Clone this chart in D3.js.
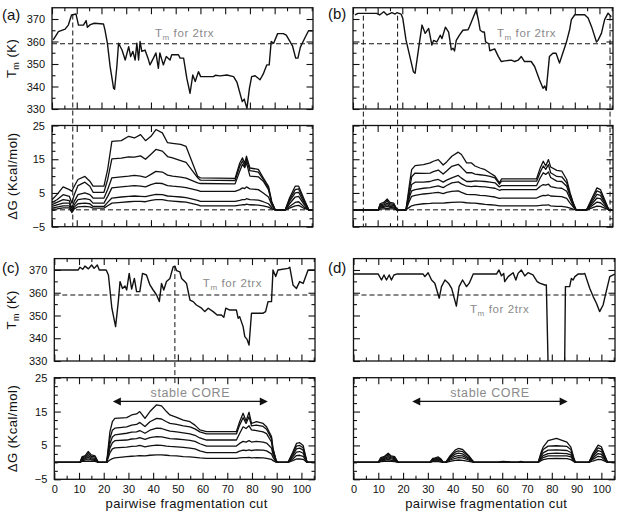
<!DOCTYPE html>
<html>
<head>
<meta charset="utf-8">
<script src="https://cdn.jsdelivr.net/npm/d3@7"></script>
<style>
  body { margin: 0; background: #fff; }
  svg text { font-family: "Liberation Sans", Arial, sans-serif; }
</style>
</head>
<body>
<svg width="621" height="520"></svg>
<script>
// tick values
let cutTicks = d3.range(0, 101, 10);
let cutMinor = d3.range(5, 106, 10);
let tmTicks = [330, 340, 350, 360, 370];
let tmMinor = [335, 345, 355, 365];
let dgTicks = [-5, 5, 15, 25];
let dgMinor = [-2.5, 0, 2.5, 7.5, 10, 12.5, 17.5, 20, 22.5];
let tm2trx = 359;

// melting temperature along the cut, [cut, Tm]
let tmA = [[0.5, 360.7], [2.6, 364.4], [5.3, 365.5], [6.6, 367.3], [7.9, 371.8], [9.7, 372.2], [10.7, 367.3], [12.7, 367.3], [13.8, 369.3], [14.3, 366.3], [15.5, 367.5], [17.1, 368.1], [20.8, 367.8], [21.4, 365.2], [22.4, 359.2], [23.5, 348.8], [24.9, 339.2], [25.3, 338.8], [26.2, 348.8], [26.9, 359.2], [28.3, 356.2], [29.6, 351.8], [31, 357.7], [31.8, 353.3], [32.7, 355.6], [33.6, 351.8], [34.3, 359.2], [35, 351.8], [35.6, 360], [36.3, 355.6], [37.6, 356.2], [38.8, 352.6], [39.6, 349.6], [41, 352.6], [42, 354.9], [43, 348.1], [43.6, 354.9], [45, 349.6], [46.2, 353.3], [47.7, 351.8], [48.4, 354.1], [51.1, 354.1], [51.8, 352.6], [53.2, 352.6], [54.5, 343.6], [55.8, 337], [56.9, 345.1], [57.9, 342.2], [59.2, 346.6], [60.1, 344.4], [61.2, 344.4], [65.3, 344.4], [66, 345], [68, 344.7], [70.7, 345.1], [73.4, 344.4], [74.8, 341.8], [76.9, 333.3], [77.7, 334.4], [78.8, 330.3], [79.8, 339.2], [80.7, 344.4], [82.1, 344.8], [84.1, 343], [85.4, 345.6], [86.8, 349.6], [87.8, 349.6], [88.6, 360], [89.6, 359.2], [91.2, 363.5], [93.5, 363.5], [94.7, 362.8], [97.2, 358.1], [98.5, 352.6], [99.4, 352.6], [100.4, 357.5], [102.4, 362], [103.7, 364.8], [105.3, 364.8]];

let tmB = [[0.8, 371.8], [2, 372.5], [3.5, 372.5], [9.6, 372.5], [10.8, 371.8], [12.5, 373.2], [13.8, 371.8], [15.8, 372.8], [17.1, 372.2], [17.8, 372.8], [19.5, 372.2], [20.2, 370.3], [21.5, 360.7], [24.5, 346.6], [25.2, 345.9], [26.6, 356.7], [28, 367.3], [29.3, 363.6], [30.7, 365.8], [32, 358.4], [32.7, 360.5], [34, 359.8], [35.4, 362.8], [36.1, 361.3], [37.5, 366.4], [38.8, 364.2], [39.9, 356.3], [40.6, 357], [41.2, 355.8], [41.9, 360.5], [43.2, 362.8], [44.6, 365], [46.6, 365.2], [47.2, 366.4], [50, 374], [50.9, 369.5], [51.6, 365], [52.6, 364.2], [53.3, 364.2], [53.8, 359.8], [55.1, 359], [55.5, 355.9], [57.5, 356.7], [59, 353.3], [60.2, 351.1], [61.6, 351.4], [64.3, 351.7], [65.6, 351.1], [67, 351.7], [68.3, 353.3], [69.6, 351.1], [72.3, 351.1], [73.7, 348.9], [75.7, 342.9], [77.1, 339.2], [77.8, 340.2], [78.4, 338.3], [79.7, 353.3], [81.1, 354.8], [82.4, 354.8], [83.8, 350.4], [85.1, 354.8], [86.5, 359.3], [87.9, 365.2], [88.6, 369.7], [90, 371.9], [94, 371.9], [95.4, 370.4], [96.8, 366.6], [98.8, 359.8], [99.4, 360.5], [100.8, 363.6], [102.1, 369.7], [103.5, 372.6], [104.8, 371]];

let tmC = [[0, 370], [9.7, 370], [10.4, 371.2], [11.5, 370.3], [12.4, 371.7], [13.8, 370.5], [15.1, 372.2], [16.1, 370.7], [17.4, 372.2], [18.2, 370], [21, 370], [21.9, 367.8], [23.3, 353.2], [24.8, 345.1], [25.9, 356.1], [26.6, 364.9], [27.6, 361.9], [28.6, 363], [29.3, 361.2], [30.3, 368.5], [31.3, 361.6], [32.4, 366.3], [33.3, 360.5], [34.6, 360.5], [35.7, 368.5], [37.3, 367.8], [38.7, 363.4], [40, 361.2], [41.4, 359], [42.5, 356.1], [43.4, 364.1], [44.3, 361.2], [45.4, 364.9], [46.8, 366.3], [48.1, 371.4], [48.8, 371.7], [49.5, 369.7], [50.8, 369.2], [51.5, 366.3], [52.8, 364.9], [53.5, 364.1], [54.9, 356.8], [56.2, 356.1], [57.5, 354.6], [59.6, 353.2], [60.9, 351.7], [62.3, 353.2], [64.3, 351.7], [65.9, 350.2], [67.6, 350.2], [68.6, 349.2], [69.4, 353.2], [71, 352.4], [73.7, 352.4], [74.4, 348.8], [75, 349.5], [76.4, 345.1], [77.1, 340.7], [78, 339.5], [78.8, 337], [79.8, 351], [84.5, 351], [85.5, 351.7], [86.5, 356.1], [87.9, 356.1], [88.5, 370], [89.6, 367.1], [90.5, 370], [94.6, 370.7], [95.3, 371.2], [96.6, 363.4], [98, 361.9], [99.3, 364.9], [100.7, 364.1], [102.7, 370], [105.5, 370]];

let tmD = [[0, 368.2], [10, 368.2], [11.3, 365.6], [12.3, 367.8], [13.3, 365.6], [14.4, 367.8], [15.3, 365.6], [16.3, 367.8], [17.4, 368.2], [28.1, 368.2], [28.8, 367.1], [30.1, 368.8], [31.5, 365.6], [32.8, 364.2], [34.6, 357.6], [35.5, 362.7], [36.9, 365.6], [38.3, 364.2], [39.6, 361.9], [41.5, 354.1], [42.6, 362.7], [44, 365.6], [45.6, 362.7], [46.7, 364.2], [48.3, 368.2], [57.7, 368.2], [58.7, 370], [59.7, 367.4], [60.6, 368.5], [61, 364.9], [62.4, 367.1], [64.4, 368.8], [65.5, 365.6], [66.4, 368.5], [67.7, 370], [69.1, 367.4], [70.4, 368.8], [72.4, 367.8], [74.1, 364.9], [75.1, 364.2], [77.2, 363.4], [77.8, 363.4], [78.5, 329], [85.2, 329], [85.5, 362.7], [87.2, 362.7], [87.9, 366.3], [88.6, 365.6], [89.3, 367.1], [90.6, 368.2], [92.6, 368.2], [93.3, 368.5], [95.3, 362], [96.7, 358.3], [98, 355.4], [99.3, 351.7], [100.7, 354.6], [102, 360.7], [103.4, 367.1], [105.4, 368.2]];

// free energy curves: [cut, dG1 .. dG6]
let dgA = [
  [0, 3.0, 2.2, 1.5, 1.0, 0.5, 0.2], [2, 4.5, 3.0, 2.2, 1.5, 0.8, 0.3], [4.5, 6.8, 4.5, 3.0, 2.0, 1.2, 0.6],
  [7, 6.0, 4.0, 2.7, 2.0, 1.2, 0.6], [8, 5.5, 2.0, 0.5, -0.3, -0.6, -0.8], [9, 7.0, 4.5, 2.5, 1.5, 0.8, 0.3],
  [10.5, 9.0, 7.2, 4.5, 3.0, 1.8, 0.9], [13.3, 9.9, 8.2, 5.0, 3.3, 2.0, 1.0], [15.3, 8.5, 7.0, 4.5, 3.0, 1.8, 0.9],
  [16.6, 7.0, 5.2, 3.5, 2.0, 1.0, 0.5], [21, 7.0, 5.2, 3.5, 2.0, 1.0, 0.5], [22.5, 12.0, 9.0, 6.0, 4.0, 2.2, 1.2],
  [24.2, 20.3, 15.1, 9.5, 6.5, 3.5, 2.0], [28, 20.5, 15.3, 9.8, 6.8, 3.8, 2.2], [31, 21.8, 15.7, 10.0, 7.0, 4.0, 2.4],
  [33.3, 21.3, 15.6, 10.2, 7.2, 4.1, 2.5], [35.8, 22.3, 16.0, 10.0, 7.0, 4.0, 2.5], [37.8, 20.5, 15.0, 9.6, 6.8, 3.9, 2.4],
  [40, 21.8, 16.5, 10.5, 7.5, 4.3, 2.8], [42, 23.8, 17.9, 11.4, 7.9, 4.6, 3.0], [44.6, 22.8, 17.4, 11.2, 7.8, 4.5, 3.0],
  [46.7, 19.9, 15.8, 10.3, 7.2, 4.1, 2.7], [48.7, 19.7, 15.4, 10.0, 7.0, 4.0, 2.6], [52, 19.4, 14.6, 9.7, 6.8, 3.8, 2.4],
  [54.2, 18.8, 14.1, 9.4, 6.6, 3.6, 2.3], [58.9, 9.9, 9.5, 8.0, 5.8, 2.8, 1.5], [60, 9.5, 8.8, 7.8, 5.5, 2.5, 1.2],
  [74, 9.3, 8.7, 7.7, 5.5, 2.5, 1.2], [75.9, 13.9, 12.9, 11.5, 6.0, 2.8, 1.4], [77, 15.4, 14.5, 13.5, 6.5, 3.0, 1.5],
  [77.9, 13.8, 13.0, 12.5, 6.3, 3.0, 1.5], [78.6, 15.9, 15.0, 14.0, 6.8, 3.3, 1.7], [80, 12.4, 11.6, 10.0, 6.2, 3.0, 1.5],
  [83.4, 12.0, 11.2, 9.8, 6.0, 2.9, 1.4], [85.4, 9.5, 9.0, 8.5, 5.0, 2.4, 1.2], [87.5, 7.0, 6.5, 6.0, 3.8, 1.8, 0.8],
  [88.8, 2.5, 2.2, 2.0, 1.5, 0.7, 0.3], [90.2, 0, 0, 0, 0, 0, 0], [94.3, 0, 0, 0, 0, 0, 0],
  [96, 3.5, 3.0, 2.5, 1.8, 1.0, 0.5], [98.3, 7.0, 6.0, 5.0, 3.8, 2.2, 1.2], [99.7, 7.0, 6.2, 5.2, 4.0, 2.4, 1.3],
  [102, 3.0, 2.5, 2.0, 1.5, 0.8, 0.4], [103.8, 0, 0, 0, 0, 0, 0], [105.5, 0, 0, 0, 0, 0, 0]
];

let dgB = [
  [0, 0, 0, 0, 0, 0, 0], [10.3, 0, 0, 0, 0, 0, 0], [11, 1.8, 1.5, 1.2, 0.9, 0.6, 0.3],
  [12.5, 2.2, 1.8, 1.4, 1.0, 0.7, 0.3], [13.9, 3.2, 2.6, 2.0, 1.5, 1.0, 0.4], [15, 2.2, 1.8, 1.4, 1.0, 0.7, 0.3],
  [16.5, 2.0, 1.6, 1.3, 0.9, 0.6, 0.3], [17.9, 0, 0, 0, 0, 0, 0], [21.5, 0, 0, 0, 0, 0, 0],
  [23, 8.0, 6.5, 5.0, 4.0, 2.8, 0.8], [23.8, 11.9, 9.8, 7.5, 5.6, 4.0, 1.2], [25.2, 13.1, 10.9, 8.2, 6.0, 4.3, 1.5],
  [28.6, 13.4, 10.8, 8.2, 6.4, 4.7, 1.8], [31.3, 13.9, 10.9, 8.4, 6.6, 4.9, 1.9], [32.6, 14.4, 11.3, 8.7, 6.8, 5.0, 2.0],
  [34.6, 14.9, 11.8, 9.0, 7.1, 5.2, 2.0], [36.6, 13.3, 10.6, 8.2, 6.6, 4.8, 2.0], [38, 14.2, 11.5, 8.8, 7.2, 5.2, 2.1],
  [40.1, 15.9, 12.9, 9.5, 8.0, 5.5, 2.2], [42.7, 17.1, 13.5, 10.2, 8.3, 5.6, 2.3], [44, 16.4, 12.6, 9.4, 7.7, 5.2, 2.3],
  [46.1, 13.9, 11.0, 8.4, 7.0, 4.6, 2.1], [48.1, 13.9, 11.0, 8.4, 6.9, 4.5, 2.0], [49.5, 13.0, 10.6, 8.6, 7.0, 4.5, 2.0],
  [51.5, 12.4, 10.4, 8.5, 6.9, 4.3, 1.8], [53.6, 11.9, 10.2, 8.4, 6.8, 4.2, 1.6], [55.6, 10.9, 9.9, 8.2, 6.6, 4.0, 1.5],
  [57.6, 10.0, 9.5, 8.0, 6.4, 3.8, 1.4], [59.4, 8.0, 7.6, 6.8, 5.8, 3.4, 1.2], [60.3, 9.2, 8.5, 7.2, 6.0, 3.5, 1.2],
  [74.5, 9.2, 8.5, 7.2, 6.0, 3.5, 1.2], [76, 12.5, 11.2, 9.5, 7.0, 4.0, 1.3], [77.2, 14.4, 13.0, 11.0, 7.5, 4.3, 1.4],
  [78.2, 13.0, 12.0, 10.5, 7.3, 4.2, 1.4], [79.3, 14.9, 13.4, 11.2, 7.6, 4.4, 1.5], [80.2, 12.7, 11.0, 9.6, 6.9, 4.1, 1.2],
  [82.7, 11.7, 9.9, 8.5, 6.5, 4.0, 1.0], [84.7, 11.5, 9.8, 8.4, 6.4, 3.9, 1.0], [86.7, 9.0, 8.0, 7.0, 5.5, 3.4, 0.8],
  [88.1, 5.0, 4.6, 4.0, 3.2, 2.0, 0.5], [89.4, 2.0, 1.8, 1.5, 1.2, 0.8, 0.2], [90.5, 0, 0, 0, 0, 0, 0],
  [94.8, 0, 0, 0, 0, 0, 0], [97, 3.5, 3.0, 2.4, 1.8, 1.2, 0.6], [99, 6.5, 5.6, 4.6, 3.5, 2.3, 1.1],
  [100.4, 6.0, 5.2, 4.3, 3.3, 2.1, 1.0], [103.8, 0, 0, 0, 0, 0, 0], [105.5, 0, 0, 0, 0, 0, 0]
];

let dgC = [
  [0, 0, 0, 0, 0, 0, 0], [10.4, 0, 0, 0, 0, 0, 0], [11.2, 1.6, 1.3, 1.0, 0.8, 0.5, 0.3],
  [12.5, 2.0, 1.7, 1.3, 1.0, 0.7, 0.3], [13.7, 3.2, 2.6, 2.0, 1.5, 1.0, 0.4], [15, 2.2, 1.8, 1.4, 1.0, 0.7, 0.3],
  [16.5, 1.9, 1.6, 1.2, 0.9, 0.6, 0.3], [17.8, 0, 0, 0, 0, 0, 0], [21.2, 0, 0, 0, 0, 0, 0],
  [22.5, 9.0, 7.0, 5.5, 4.2, 2.8, 0.7], [23.5, 12.0, 9.5, 7.5, 5.8, 4.0, 1.1], [24.5, 13.0, 10.1, 8.1, 6.4, 4.3, 1.3],
  [29.3, 13.2, 10.5, 8.6, 6.6, 4.5, 1.7], [31.3, 14.0, 11.0, 8.9, 6.9, 4.7, 1.8], [33.3, 14.3, 11.2, 9.0, 7.0, 4.8, 1.9],
  [34.6, 15.0, 11.8, 9.4, 7.3, 5.0, 2.0], [36.7, 13.0, 10.6, 8.6, 6.8, 4.6, 1.9], [38.7, 15.0, 12.0, 9.5, 7.3, 4.9, 2.1],
  [41.4, 17.0, 13.0, 10.1, 7.6, 5.1, 2.2], [43.4, 16.7, 12.8, 10.0, 7.5, 5.0, 2.2], [45.4, 15.0, 12.0, 9.5, 7.2, 4.8, 2.1],
  [46.8, 14.0, 11.5, 9.2, 7.0, 4.7, 2.0], [49.5, 13.3, 11.2, 9.0, 6.9, 4.6, 1.9], [52.2, 12.5, 10.8, 8.7, 6.7, 4.4, 1.7],
  [54.9, 12.0, 10.5, 8.4, 6.5, 4.2, 1.6], [56.9, 11.0, 9.9, 8.0, 6.2, 4.0, 1.5], [58.9, 9.6, 9.0, 7.2, 5.5, 3.4, 1.3],
  [61.6, 9.1, 8.4, 6.6, 4.8, 2.9, 1.2], [73.7, 9.1, 8.4, 6.6, 4.8, 2.9, 1.2], [75, 12.0, 11.0, 8.5, 5.6, 3.3, 1.3],
  [76.4, 14.5, 13.2, 10.5, 6.2, 3.6, 1.4], [77.6, 12.2, 11.5, 10.0, 6.0, 3.5, 1.4], [78.8, 14.8, 13.5, 10.8, 6.4, 3.7, 1.5],
  [79.8, 11.5, 10.8, 9.6, 6.0, 3.5, 1.3], [81.8, 12.0, 11.0, 9.4, 6.2, 3.7, 1.4], [84.5, 11.5, 10.6, 9.0, 6.0, 3.6, 1.3],
  [85.9, 10.5, 9.8, 8.5, 5.7, 3.4, 1.2], [87.9, 7.6, 7.0, 6.0, 4.2, 2.5, 0.9], [88.5, 4.2, 3.8, 3.2, 2.4, 1.5, 0.5],
  [89.8, 0.5, 0.4, 0.3, 0.2, 0.1, 0.1], [90.5, 0, 0, 0, 0, 0, 0], [94.6, 0, 0, 0, 0, 0, 0],
  [96.5, 3.0, 2.6, 2.1, 1.6, 1.0, 0.5], [98, 5.6, 4.8, 4.0, 3.0, 2.0, 1.0], [99.3, 5.8, 5.0, 4.2, 3.2, 2.1, 1.0],
  [100.7, 5.0, 4.3, 3.6, 2.7, 1.8, 0.9], [102.3, 0, 0, 0, 0, 0, 0], [105.5, 0, 0, 0, 0, 0, 0]
];

let dgD = [
  [0, 0, 0, 0, 0, 0, 0], [10, 0, 0, 0, 0, 0, 0], [11, 1.4, 1.1, 0.9, 0.7, 0.4, 0.2],
  [12.5, 1.8, 1.5, 1.2, 0.9, 0.6, 0.3], [14, 2.7, 2.2, 1.7, 1.3, 0.9, 0.4], [15.2, 1.9, 1.6, 1.3, 1.0, 0.6, 0.3],
  [16.6, 1.7, 1.4, 1.1, 0.8, 0.5, 0.2], [18, 0, 0, 0, 0, 0, 0], [30.8, 0, 0, 0, 0, 0, 0],
  [32, 1.2, 1.0, 0.8, 0.6, 0.4, 0.2], [33, 1.3, 1.1, 0.9, 0.7, 0.4, 0.2], [34.2, 1.6, 1.3, 1.0, 0.8, 0.5, 0.2],
  [35.3, 1.0, 0.8, 0.6, 0.5, 0.3, 0.1], [36.2, 0, 0, 0, 0, 0, 0], [37.2, 0, 0, 0, 0, 0, 0],
  [39, 2.0, 1.7, 1.4, 1.0, 0.7, 0.3], [41, 3.6, 3.0, 2.4, 1.8, 1.2, 0.6], [42.3, 4.1, 3.4, 2.7, 2.0, 1.4, 0.7],
  [44, 3.8, 3.2, 2.5, 1.9, 1.3, 0.6], [46.5, 2.0, 1.7, 1.3, 1.0, 0.7, 0.3], [48.6, 0, 0, 0, 0, 0, 0],
  [58.5, 0, 0, 0, 0, 0, 0], [60, 0.3, 0.2, 0.2, 0.1, 0.1, 0], [62, 0.2, 0.2, 0.1, 0.1, 0, 0],
  [63.5, 0, 0, 0, 0, 0, 0], [66.5, 0, 0, 0, 0, 0, 0], [67.5, 0.3, 0.2, 0.1, 0.1, 0, 0],
  [68.8, 0, 0, 0, 0, 0, 0], [74.5, 0, 0, 0, 0, 0, 0], [75.7, 3.0, 2.4, 1.8, 1.3, 0.9, 0.5],
  [76.5, 4.5, 3.8, 2.8, 2.0, 1.4, 0.8], [78.5, 6.4, 4.8, 3.6, 2.6, 1.9, 1.1], [81.9, 7.1, 4.9, 3.7, 2.7, 1.9, 1.2],
  [86.1, 6.0, 4.7, 3.5, 2.6, 1.9, 1.1], [87.7, 4.5, 3.8, 2.9, 2.2, 1.6, 0.8], [88.8, 1.5, 1.3, 1.0, 0.8, 0.5, 0.3],
  [89.5, 0, 0, 0, 0, 0, 0], [95, 0, 0, 0, 0, 0, 0], [96.5, 2.5, 2.1, 1.7, 1.3, 0.9, 0.4],
  [98.7, 5.1, 4.3, 3.5, 2.6, 1.8, 0.9], [100, 4.6, 3.9, 3.2, 2.4, 1.6, 0.8], [102.5, 0, 0, 0, 0, 0, 0],
  [105.5, 0, 0, 0, 0, 0, 0]
];

// vertical markers: [cut, Tm where it starts, dG where it ends]
let markA = [[8.4, 372, -5]];
let markB = [[4.2, 371.5, -5], [18.1, 371.5, -5], [104.3, 371.5, -5]];
let markC = [[48.8, 371.7, 22.5]];
let markD = [];

let core = [23.7, 86.4];

let panels = [
  { key: "a", x0: 52, x1: 313, t0: 7.75, t1: 109, g0: 125.5, g1: 226.7, tm: tmA, dg: dgA, marks: markA,
    yLab: true, xLab: false, zero: true, note: [41.6, 362.2], core: false, lab: [2, 20] },
  { key: "b", x0: 353, x1: 613, t0: 7.75, t1: 109, g0: 125.5, g1: 226.7, tm: tmB, dg: dgB, marks: markB,
    yLab: false, xLab: false, zero: true, note: [58.4, 362.2], core: false, lab: [328, 19] },
  { key: "c", x0: 54.3, x1: 315, t0: 258.6, t1: 361, g0: 377.7, g1: 479.3, tm: tmC, dg: dgC, marks: markC,
    yLab: true, xLab: true, zero: false, note: [60.1, 362.5], core: true, lab: [2, 273] },
  { key: "d", x0: 353.5, x1: 615, t0: 258.6, t1: 361, g0: 377.7, g1: 479.3, tm: tmD, dg: dgD, marks: markD,
    yLab: false, xLab: true, zero: false, note: [47, 351.2], core: true, lab: [328, 273] }
];

let svg = d3.select("svg");
let font = "'Liberation Sans', Arial, sans-serif";

function axis(g, ax, tr, vals, size, labels, pad) {
  g.append("g")
    .attr("transform", tr)
    .call(
      ax.tickValues(vals)
        .tickSize(-size)
        .tickPadding(pad)
        .tickFormat(labels ? d3.format("d") : () => "")
    )
    .attr("font-family", font)
    .attr("font-size", 11)
    .call(s => s.select(".domain").remove())
    .call(s => s.selectAll("line").attr("stroke", "#111").attr("stroke-width", 1.1))
    .call(s => s.selectAll("text").attr("fill", "#111"));
}

function box(g, x, y, major, minor, yLab, xLab, id) {
  let [xa, xb] = x.range();
  let [ya, yb] = y.range();
  g.append("clipPath")
    .attr("id", id)
    .append("rect")
    .attr("x", xa)
    .attr("y", yb)
    .attr("width", xb - xa)
    .attr("height", ya - yb);

  axis(g, d3.axisBottom(x), `translate(0,${ya})`, cutTicks, 6.5, xLab, 5.5);
  axis(g, d3.axisBottom(x), `translate(0,${ya})`, cutMinor, 3.5, false, 0);
  axis(g, d3.axisTop(x), `translate(0,${yb})`, cutTicks, 6.5, false, 0);
  axis(g, d3.axisTop(x), `translate(0,${yb})`, cutMinor, 3.5, false, 0);
  axis(g, d3.axisLeft(y), `translate(${xa},0)`, major, 6.5, yLab, 7);
  axis(g, d3.axisLeft(y), `translate(${xa},0)`, minor, 3.5, false, 0);
  axis(g, d3.axisRight(y), `translate(${xb},0)`, major, 6.5, false, 0);
  axis(g, d3.axisRight(y), `translate(${xb},0)`, minor, 3.5, false, 0);

  g.append("rect")
    .attr("x", xa)
    .attr("y", yb)
    .attr("width", xb - xa)
    .attr("height", ya - yb)
    .attr("fill", "none")
    .attr("stroke", "#111")
    .attr("stroke-width", 1.3);
}

panels.forEach(p => {
  let x = d3.scaleLinear().domain([0, 105.5]).range([p.x0, p.x1]);
  let yT = d3.scaleLinear().domain([330, 375]).range([p.t1, p.t0]);
  let yG = d3.scaleLinear().domain([-5, 25]).range([p.g1, p.g0]);
  let g = svg.append("g");

  // ---- Tm panel
  box(g, x, yT, tmTicks, tmMinor, p.yLab, false, "ct" + p.key);
  let gt = g.append("g").attr("clip-path", `url(#ct${p.key})`);
  gt.append("line")
    .attr("x1", x(0)).attr("x2", x(105.5))
    .attr("y1", yT(tm2trx)).attr("y2", yT(tm2trx))
    .attr("stroke", "#111").attr("stroke-width", 1).attr("stroke-dasharray", "5,3");
  gt.append("path")
    .datum(p.tm)
    .attr("d", d3.line().x(d => x(d[0])).y(d => yT(d[1])))
    .attr("fill", "none").attr("stroke", "#111").attr("stroke-width", 1.4)
    .attr("stroke-linejoin", "round");

  let note = g.append("text")
    .attr("x", x(p.note[0])).attr("y", yT(p.note[1]))
    .attr("font-family", font).attr("font-size", 11.5).attr("fill", "#8a8a8a")
    .attr("letter-spacing", 0.6);
  note.append("tspan").text("T");
  note.append("tspan").attr("font-size", 8).attr("dy", 3).text("m");
  note.append("tspan").attr("dy", -3).text(" for 2trx");

  // ---- dG panel
  box(g, x, yG, dgTicks, dgMinor, p.yLab, p.xLab, "cg" + p.key);
  let gg = g.append("g").attr("clip-path", `url(#cg${p.key})`);
  if (p.zero) {
    gg.append("line")
      .attr("x1", x(0)).attr("x2", x(105.5))
      .attr("y1", yG(0)).attr("y2", yG(0))
      .attr("stroke", "#111").attr("stroke-width", 1).attr("stroke-dasharray", "5,3");
  }
  d3.range(1, 7).forEach(k => {
    gg.append("path")
      .datum(p.dg)
      .attr("d", d3.line().x(d => x(d[0])).y(d => yG(d[k])))
      .attr("fill", "none").attr("stroke", "#111").attr("stroke-width", 1.3)
      .attr("stroke-linejoin", "round");
  });

  // vertical dashed markers crossing both panels
  p.marks.forEach(m => {
    g.append("line")
      .attr("x1", x(m[0])).attr("x2", x(m[0]))
      .attr("y1", yT(m[1])).attr("y2", yG(m[2]))
      .attr("stroke", "#111").attr("stroke-width", 1).attr("stroke-dasharray", "5,3");
  });

  if (p.core) {
    let ay = yG(18);
    let xa = x(core[0]), xb = x(core[1]);
    g.append("line")
      .attr("x1", xa + 4).attr("x2", xb - 4).attr("y1", ay).attr("y2", ay)
      .attr("stroke", "#111").attr("stroke-width", 1.4);
    g.append("path")
      .attr("d", `M${xa},${ay}L${xa + 8},${ay - 4}L${xa + 8},${ay + 4}Z M${xb},${ay}L${xb - 8},${ay - 4}L${xb - 8},${ay + 4}Z`)
      .attr("fill", "#111");
    g.append("text")
      .attr("x", (xa + xb) / 2).attr("y", yG(19.4))
      .attr("text-anchor", "middle")
      .attr("font-family", font).attr("font-size", 12.5).attr("fill", "#8a8a8a")
      .attr("letter-spacing", 0.6)
      .text("stable CORE");
  }

  // panel tag
  g.append("text")
    .attr("x", p.lab[0]).attr("y", p.lab[1])
    .attr("font-family", font).attr("font-size", 15).attr("fill", "#111")
    .text(`(${p.key})`);

  if (p.yLab) {
    let tt = g.append("text")
      .attr("transform", `translate(16,${(p.t0 + p.t1) / 2}) rotate(-90)`)
      .attr("text-anchor", "middle")
      .attr("font-family", font).attr("font-size", 13).attr("fill", "#111")
      .attr("letter-spacing", 0.5);
    tt.append("tspan").text("T");
    tt.append("tspan").attr("font-size", 9).attr("dy", 3).text("m");
    tt.append("tspan").attr("dy", -3).text(" (K)");

    g.append("text")
      .attr("transform", `translate(17,${(p.g0 + p.g1) / 2}) rotate(-90)`)
      .attr("text-anchor", "middle")
      .attr("font-family", font).attr("font-size", 13).attr("fill", "#111")
      .attr("letter-spacing", 0.5)
      .text("ΔG  (Kcal/mol)");
  }

  if (p.xLab) {
    g.append("text")
      .attr("x", (p.x0 + p.x1) / 2 + 2).attr("y", 508)
      .attr("text-anchor", "middle")
      .attr("font-family", font).attr("font-size", 13).attr("fill", "#111")
      .attr("letter-spacing", 0.4)
      .text("pairwise fragmentation cut");
  }
});
</script>
</body>
</html>
